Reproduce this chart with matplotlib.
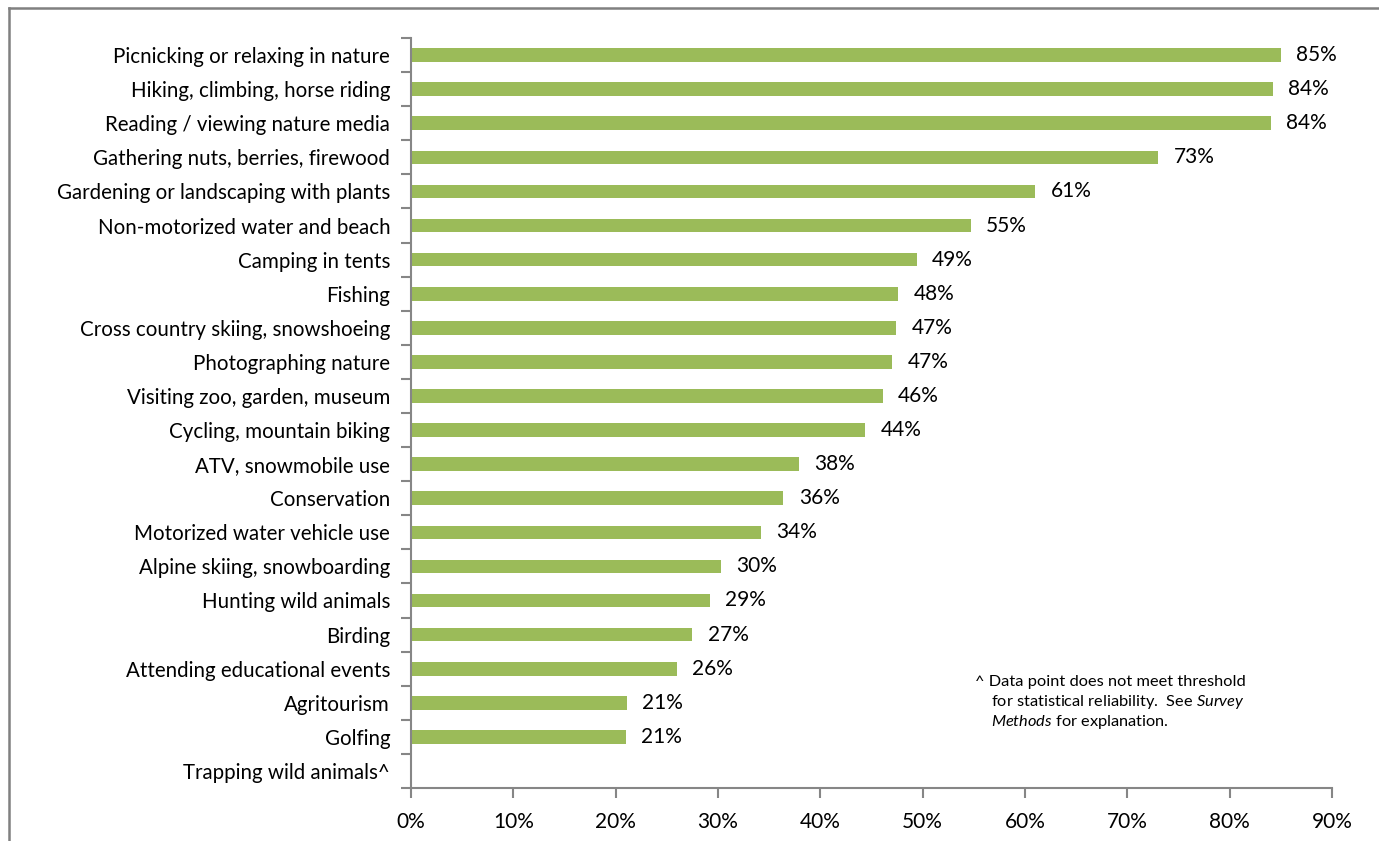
import numpy as np
import matplotlib
matplotlib.use("Agg")
import matplotlib.pyplot as plt
from matplotlib.lines import Line2D
from matplotlib.ticker import FixedLocator, PercentFormatter

plt.rcParams['font.family'] = ['Lato', 'DejaVu Sans']
plt.rcParams['mathtext.fontset'] = 'custom'
plt.rcParams['mathtext.rm'] = 'Lato'
plt.rcParams['mathtext.it'] = 'Lato:italic'

# Данные (сверху вниз)
activities = [
    "Picnicking or relaxing in nature",
    "Hiking, climbing, horse riding",
    "Reading / viewing nature media",
    "Gathering nuts, berries, firewood",
    "Gardening or landscaping with plants",
    "Non-motorized water and beach",
    "Camping in tents",
    "Fishing",
    "Cross country skiing, snowshoeing",
    "Photographing nature",
    "Visiting zoo, garden, museum",
    "Cycling, mountain biking",
    "ATV, snowmobile use",
    "Conservation",
    "Motorized water vehicle use",
    "Alpine skiing, snowboarding",
    "Hunting wild animals",
    "Birding",
    "Attending educational events",
    "Agritourism",
    "Golfing",
    "Trapping wild animals^",
]
shares = [85.0, 84.2, 84.0, 73.0, 61.0, 54.7, 49.4, 47.6, 47.4, 47.0, 46.1,
          44.4, 37.9, 36.4, 34.2, 30.3, 29.2, 27.5, 26.0, 21.1, 21.0, np.nan]
labels = ["85%", "84%", "84%", "73%", "61%", "55%", "49%", "48%", "47%", "47%",
          "46%", "44%", "38%", "36%", "34%", "30%", "29%", "27%", "26%", "21%",
          "21%", ""]

fig = plt.figure(figsize=(13.79, 8.41), dpi=100)
ax = fig.add_axes([411 / 1379, 1 - 788 / 841, (1332 - 411) / 1379, (788 - 38) / 841])

n = len(activities)
y = np.arange(n)
vals = np.nan_to_num(np.array(shares))
ax.barh(y, vals, height=0.4, color='#9BBB59')

# Подписи значений
for yi, v, lab in zip(y, vals, labels):
    if lab:
        ax.text(v + 1.5, yi, lab, va='center', ha='left', fontsize=15, color='black')

ax.set_ylim(n - 0.5, -0.5)
ax.set_xlim(0, 90)
ax.set_yticks(y)
ax.set_yticklabels(activities, fontsize=14.8)
ax.yaxis.set_minor_locator(FixedLocator(np.arange(n + 1) - 0.5))
ax.tick_params(axis='y', which='major', length=0, pad=15)
ax.tick_params(axis='y', which='minor', length=7, color='#868686', width=1.5)

ax.set_xticks(np.arange(0, 91, 10))
ax.xaxis.set_major_formatter(PercentFormatter(decimals=0))
ax.tick_params(axis='x', length=7, color='#868686', width=1.5, labelsize=15, pad=10)

for side in ['top', 'right']:
    ax.spines[side].set_visible(False)
for side in ['left', 'bottom']:
    ax.spines[side].set_color('#868686')
    ax.spines[side].set_linewidth(1.5)

# Примечание
fig.text(975 / 1379, 1 - 682 / 841, "^ Data point does not meet threshold",
         fontsize=11.8, va='center', ha='left')
fig.text(991 / 1379, 1 - 702 / 841, r"for statistical reliability.  See $\mathit{Survey}$",
         fontsize=11.8, va='center', ha='left')
fig.text(991 / 1379, 1 - 722 / 841, r"$\mathit{Methods}$ for explanation.",
         fontsize=11.8, va='center', ha='left')

# Рамка области диаграммы
fig.add_artist(Line2D([9 / 1379, 9 / 1379], [0, 1 - 8 / 841], color='#808080', lw=1.8))
fig.add_artist(Line2D([9 / 1379, 1], [1 - 8 / 841, 1 - 8 / 841], color='#808080', lw=1.8))

fig.savefig("out.png", dpi=100)
